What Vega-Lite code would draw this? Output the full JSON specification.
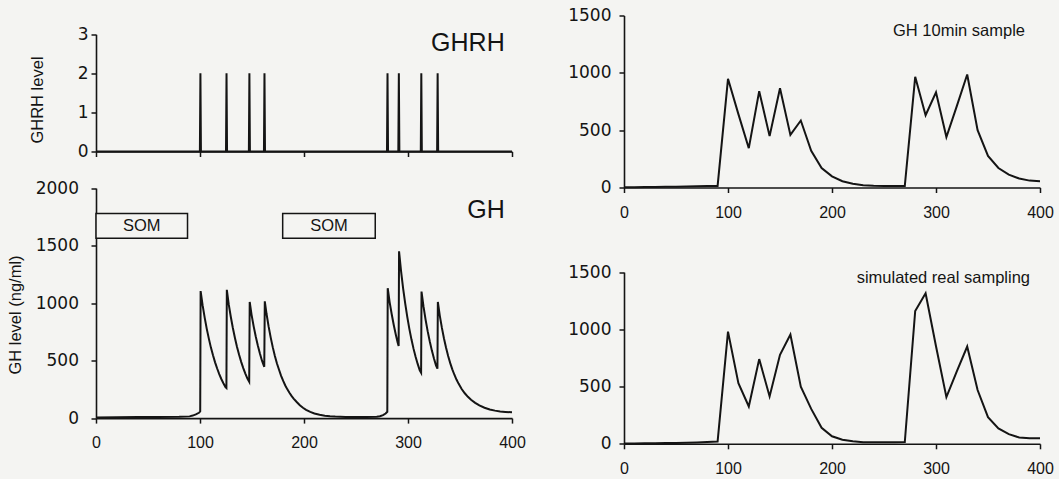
{
  "$schema": "https://vega.github.io/schema/vega-lite/v6.json",
  "background": "#f4f4f2",
  "padding": {"left": 7, "top": 6.5, "right": 5, "bottom": 5},
  "config": {
    "view": {"stroke": null},
    "font": "Liberation Sans",
    "axis": {
      "grid": false,
      "domainColor": "#141414",
      "domainWidth": 1.6,
      "tickColor": "#141414",
      "tickWidth": 1.5,
      "tickSize": 5,
      "labelColor": "#141414",
      "labelFont": "Liberation Sans",
      "labelFontSize": 16,
      "labelFlush": false,
      "labelOverlap": false,
      "format": "d",
      "titleColor": "#141414",
      "titleFont": "Liberation Sans",
      "titleFontSize": 16.5,
      "titleFontWeight": "normal"
    },
    "axisY": {"labelFont": "DejaVu Sans", "labelFontSize": 17}
  },
  "datasets": {
    "ghrh": [
      {"t": 0, "level": 0}, {"t": 99.9, "level": 0}, {"t": 100.4, "level": 2}, {"t": 100.9, "level": 0},
      {"t": 125.0, "level": 0}, {"t": 125.5, "level": 2}, {"t": 126.0, "level": 0},
      {"t": 147.0, "level": 0}, {"t": 147.5, "level": 2}, {"t": 148.0, "level": 0},
      {"t": 161.5, "level": 0}, {"t": 162.0, "level": 2}, {"t": 162.5, "level": 0},
      {"t": 279.8, "level": 0}, {"t": 280.3, "level": 2}, {"t": 280.8, "level": 0},
      {"t": 290.7, "level": 0}, {"t": 291.2, "level": 2}, {"t": 291.7, "level": 0},
      {"t": 312.3, "level": 0}, {"t": 312.8, "level": 2}, {"t": 313.3, "level": 0},
      {"t": 328.0, "level": 0}, {"t": 328.5, "level": 2}, {"t": 329.0, "level": 0},
      {"t": 400, "level": 0}
    ],
    "gh": [
      {"t": 0, "gh": 5}, {"t": 20, "gh": 7}, {"t": 40, "gh": 9}, {"t": 60, "gh": 10}, {"t": 80, "gh": 12},
      {"t": 90, "gh": 15}, {"t": 93, "gh": 22}, {"t": 96, "gh": 32}, {"t": 99, "gh": 46}, {"t": 100.2, "gh": 58},
      {"t": 100.6, "gh": 1105}, {"t": 102.5, "gh": 982}, {"t": 104.5, "gh": 873}, {"t": 106.5, "gh": 776},
      {"t": 108.5, "gh": 691}, {"t": 110.5, "gh": 613}, {"t": 112.5, "gh": 546}, {"t": 114.5, "gh": 485},
      {"t": 116.5, "gh": 431}, {"t": 118.5, "gh": 383}, {"t": 120.5, "gh": 340}, {"t": 122.5, "gh": 303},
      {"t": 124.5, "gh": 270}, {"t": 125.4, "gh": 262},
      {"t": 125.8, "gh": 1115}, {"t": 127.6, "gh": 991}, {"t": 129.6, "gh": 881}, {"t": 131.6, "gh": 783},
      {"t": 133.6, "gh": 697}, {"t": 135.6, "gh": 619}, {"t": 137.6, "gh": 551}, {"t": 139.6, "gh": 489},
      {"t": 141.6, "gh": 435}, {"t": 143.6, "gh": 387}, {"t": 145.6, "gh": 343}, {"t": 147.3, "gh": 316},
      {"t": 147.8, "gh": 1010}, {"t": 149.6, "gh": 898}, {"t": 151.6, "gh": 798}, {"t": 153.6, "gh": 709},
      {"t": 155.6, "gh": 631}, {"t": 157.6, "gh": 561}, {"t": 159.6, "gh": 499}, {"t": 161.8, "gh": 446},
      {"t": 162.3, "gh": 1015}, {"t": 164, "gh": 905}, {"t": 166, "gh": 795}, {"t": 168, "gh": 700},
      {"t": 170, "gh": 615}, {"t": 172, "gh": 540}, {"t": 174, "gh": 475}, {"t": 176, "gh": 420},
      {"t": 178, "gh": 368}, {"t": 180, "gh": 323}, {"t": 182, "gh": 284}, {"t": 184, "gh": 250},
      {"t": 186, "gh": 220}, {"t": 188, "gh": 193}, {"t": 190, "gh": 170}, {"t": 193, "gh": 140},
      {"t": 196, "gh": 112}, {"t": 199, "gh": 90}, {"t": 202, "gh": 72}, {"t": 206, "gh": 54},
      {"t": 210, "gh": 40}, {"t": 215, "gh": 29}, {"t": 220, "gh": 21}, {"t": 225, "gh": 16},
      {"t": 230, "gh": 13}, {"t": 240, "gh": 10}, {"t": 250, "gh": 9}, {"t": 260, "gh": 9},
      {"t": 270, "gh": 11}, {"t": 273, "gh": 16}, {"t": 276, "gh": 26}, {"t": 278.5, "gh": 40}, {"t": 280.1, "gh": 55},
      {"t": 280.5, "gh": 1130}, {"t": 282.3, "gh": 1011}, {"t": 284.3, "gh": 905}, {"t": 286.3, "gh": 810},
      {"t": 288.3, "gh": 725}, {"t": 290.1, "gh": 655}, {"t": 291.0, "gh": 628},
      {"t": 291.4, "gh": 1450}, {"t": 293.3, "gh": 1280}, {"t": 295.3, "gh": 1129}, {"t": 297.3, "gh": 997},
      {"t": 299.3, "gh": 880}, {"t": 301.3, "gh": 776}, {"t": 303.3, "gh": 685}, {"t": 305.3, "gh": 604},
      {"t": 307.3, "gh": 534}, {"t": 309.3, "gh": 471}, {"t": 311.3, "gh": 416}, {"t": 312.6, "gh": 395},
      {"t": 313.0, "gh": 1100}, {"t": 314.9, "gh": 971}, {"t": 316.9, "gh": 857}, {"t": 318.9, "gh": 756},
      {"t": 320.9, "gh": 668}, {"t": 322.9, "gh": 589}, {"t": 324.9, "gh": 520}, {"t": 326.9, "gh": 459},
      {"t": 328.3, "gh": 430},
      {"t": 328.7, "gh": 1010}, {"t": 330.6, "gh": 889}, {"t": 332.6, "gh": 784}, {"t": 334.6, "gh": 692},
      {"t": 336.6, "gh": 611}, {"t": 338.6, "gh": 540}, {"t": 340.6, "gh": 478}, {"t": 342.6, "gh": 424},
      {"t": 344.6, "gh": 377}, {"t": 346.6, "gh": 335}, {"t": 348.6, "gh": 300}, {"t": 351.6, "gh": 253},
      {"t": 354.6, "gh": 216}, {"t": 357.6, "gh": 185}, {"t": 360.6, "gh": 159}, {"t": 364.6, "gh": 133},
      {"t": 368.6, "gh": 110}, {"t": 373.6, "gh": 90}, {"t": 378.6, "gh": 75}, {"t": 383.6, "gh": 65},
      {"t": 388.6, "gh": 58}, {"t": 393.6, "gh": 54}, {"t": 400, "gh": 50}
    ],
    "som": [
      {"from": 0, "to": 88, "low": 1565, "high": 1780},
      {"from": 179.5, "to": 268.5, "low": 1565, "high": 1780}
    ],
    "sample10": [
      {"t": 0, "gh": 2}, {"t": 10, "gh": 3}, {"t": 20, "gh": 4}, {"t": 30, "gh": 5}, {"t": 40, "gh": 6},
      {"t": 50, "gh": 7}, {"t": 60, "gh": 8}, {"t": 70, "gh": 10}, {"t": 80, "gh": 12}, {"t": 90, "gh": 14},
      {"t": 100, "gh": 948}, {"t": 110, "gh": 640}, {"t": 120, "gh": 343}, {"t": 130, "gh": 840},
      {"t": 140, "gh": 448}, {"t": 150, "gh": 866}, {"t": 160, "gh": 459}, {"t": 170, "gh": 584},
      {"t": 180, "gh": 320}, {"t": 190, "gh": 170}, {"t": 200, "gh": 97}, {"t": 210, "gh": 55},
      {"t": 220, "gh": 32}, {"t": 230, "gh": 20}, {"t": 240, "gh": 15}, {"t": 250, "gh": 13},
      {"t": 260, "gh": 13}, {"t": 270, "gh": 14}, {"t": 280, "gh": 965}, {"t": 290, "gh": 630},
      {"t": 300, "gh": 830}, {"t": 310, "gh": 440}, {"t": 320, "gh": 710}, {"t": 330, "gh": 985},
      {"t": 340, "gh": 500}, {"t": 350, "gh": 275}, {"t": 360, "gh": 170}, {"t": 370, "gh": 112},
      {"t": 380, "gh": 78}, {"t": 390, "gh": 60}, {"t": 400, "gh": 55}
    ],
    "simulated": [
      {"t": 0, "gh": 2}, {"t": 10, "gh": 3}, {"t": 20, "gh": 4}, {"t": 30, "gh": 5}, {"t": 40, "gh": 6},
      {"t": 50, "gh": 8}, {"t": 60, "gh": 10}, {"t": 70, "gh": 12}, {"t": 80, "gh": 15}, {"t": 90, "gh": 20},
      {"t": 100, "gh": 980}, {"t": 110, "gh": 530}, {"t": 120, "gh": 326}, {"t": 130, "gh": 740},
      {"t": 140, "gh": 414}, {"t": 150, "gh": 778}, {"t": 160, "gh": 955}, {"t": 170, "gh": 498},
      {"t": 180, "gh": 305}, {"t": 190, "gh": 140}, {"t": 200, "gh": 66}, {"t": 210, "gh": 36},
      {"t": 220, "gh": 22}, {"t": 230, "gh": 14}, {"t": 240, "gh": 13}, {"t": 250, "gh": 13},
      {"t": 260, "gh": 14}, {"t": 270, "gh": 15}, {"t": 280, "gh": 1160}, {"t": 290, "gh": 1315},
      {"t": 300, "gh": 852}, {"t": 310, "gh": 408}, {"t": 320, "gh": 632}, {"t": 330, "gh": 850},
      {"t": 340, "gh": 470}, {"t": 350, "gh": 233}, {"t": 360, "gh": 135}, {"t": 370, "gh": 84},
      {"t": 380, "gh": 55}, {"t": 390, "gh": 48}, {"t": 400, "gh": 48}
    ]
  },
  "bounds": "flush",
  "spacing": 112,
  "hconcat": [
    {
      "width": 416,
      "height": 402.6,
      "resolve": {"scale": {"x": "independent", "y": "independent"}},
      "layer": [
        {
          "layer": [
            {
              "data": {"name": "ghrh"},
              "mark": {"type": "line", "color": "#141414", "strokeWidth": 2},
              "encoding": {
                "x": {"field": "t", "type": "quantitative",
                      "scale": {"domain": [0, 400], "nice": false},
                      "axis": {"orient": "bottom", "offset": -266.6, "values": [0, 100, 200, 300, 400], "labels": false, "title": null}},
                "y": {"field": "level", "type": "quantitative",
                      "scale": {"domain": [0, 3], "nice": false, "range": [136, 18.8]},
                      "axis": {"orient": "left", "values": [0, 1, 2, 3], "title": "GHRH level", "titleX": -51, "titleY": 84, "labelPadding": 3}}
              }
            },
            {
              "data": {"values": [{"t": 393, "level": 2.77, "label": "GHRH"}]},
              "mark": {"type": "text", "align": "right", "baseline": "middle", "fontSize": 25, "font": "Liberation Sans", "color": "#141414"},
              "encoding": {
                "x": {"field": "t", "type": "quantitative"},
                "y": {"field": "level", "type": "quantitative"},
                "text": {"field": "label"}
              }
            }
          ]
        },
        {
          "layer": [
            {
              "data": {"name": "som"},
              "mark": {"type": "rect", "fill": "#f4f4f2", "stroke": "#141414", "strokeWidth": 1.5},
              "encoding": {
                "x": {"field": "from", "type": "quantitative",
                      "scale": {"domain": [0, 400], "nice": false},
                      "axis": {"orient": "bottom", "values": [0, 100, 200, 300, 400], "title": null, "labelPadding": 11.5}},
                "x2": {"field": "to"},
                "y": {"field": "low", "type": "quantitative",
                      "scale": {"domain": [0, 2000], "nice": false, "range": [402.6, 172.6]},
                      "axis": {"orient": "left", "values": [0, 500, 1000, 1500, 2000], "title": "GH level (ng/ml)", "titleX": -73, "titleY": 299, "labelPadding": 12.5}},
                "y2": {"field": "high"}
              }
            },
            {
              "data": {"values": [
                {"t": 44, "v": 1672, "label": "SOM"},
                {"t": 224, "v": 1672, "label": "SOM"}
              ]},
              "mark": {"type": "text", "align": "center", "baseline": "middle", "fontSize": 16.5, "font": "Liberation Sans", "color": "#141414"},
              "encoding": {
                "x": {"field": "t", "type": "quantitative"},
                "y": {"field": "v", "type": "quantitative"},
                "text": {"field": "label"}
              }
            },
            {
              "data": {"name": "gh"},
              "mark": {"type": "line", "color": "#141414", "strokeWidth": 2},
              "encoding": {
                "x": {"field": "t", "type": "quantitative"},
                "y": {"field": "gh", "type": "quantitative"}
              }
            },
            {
              "data": {"values": [{"t": 393, "v": 1811, "label": "GH"}]},
              "mark": {"type": "text", "align": "right", "baseline": "middle", "fontSize": 25, "font": "Liberation Sans", "color": "#141414"},
              "encoding": {
                "x": {"field": "t", "type": "quantitative"},
                "y": {"field": "v", "type": "quantitative"},
                "text": {"field": "label"}
              }
            }
          ]
        }
      ]
    },
    {
      "width": 416,
      "height": 428.3,
      "resolve": {"scale": {"x": "independent", "y": "independent"}},
      "layer": [
        {
          "layer": [
            {
              "data": {"name": "sample10"},
              "mark": {"type": "line", "color": "#141414", "strokeWidth": 2},
              "encoding": {
                "x": {"field": "t", "type": "quantitative",
                      "scale": {"domain": [0, 400], "nice": false},
                      "axis": {"orient": "bottom", "offset": -256.3, "values": [0, 100, 200, 300, 400], "title": null, "labelPadding": 11.5}},
                "y": {"field": "gh", "type": "quantitative",
                      "scale": {"domain": [0, 1500], "nice": false, "range": [172, 0]},
                      "axis": {"orient": "left", "values": [0, 500, 1000, 1500], "title": null, "labelPadding": 8}}
              }
            },
            {
              "data": {"values": [{"t": 385.6, "v": 1369, "label": "GH 10min sample"}]},
              "mark": {"type": "text", "align": "right", "baseline": "middle", "fontSize": 16.5, "font": "Liberation Sans", "color": "#141414"},
              "encoding": {
                "x": {"field": "t", "type": "quantitative"},
                "y": {"field": "v", "type": "quantitative"},
                "text": {"field": "label"}
              }
            }
          ]
        },
        {
          "layer": [
            {
              "data": {"name": "simulated"},
              "mark": {"type": "line", "color": "#141414", "strokeWidth": 2},
              "encoding": {
                "x": {"field": "t", "type": "quantitative",
                      "scale": {"domain": [0, 400], "nice": false},
                      "axis": {"orient": "bottom", "values": [0, 100, 200, 300, 400], "title": null, "labelPadding": 11.5}},
                "y": {"field": "gh", "type": "quantitative",
                      "scale": {"domain": [0, 1500], "nice": false, "range": [428.3, 256.6]},
                      "axis": {"orient": "left", "values": [0, 500, 1000, 1500], "title": null, "labelPadding": 8}}
              }
            },
            {
              "data": {"values": [{"t": 390.4, "v": 1445, "label": "simulated real sampling"}]},
              "mark": {"type": "text", "align": "right", "baseline": "middle", "fontSize": 16.5, "font": "Liberation Sans", "color": "#141414"},
              "encoding": {
                "x": {"field": "t", "type": "quantitative"},
                "y": {"field": "v", "type": "quantitative"},
                "text": {"field": "label"}
              }
            }
          ]
        }
      ]
    }
  ]
}
